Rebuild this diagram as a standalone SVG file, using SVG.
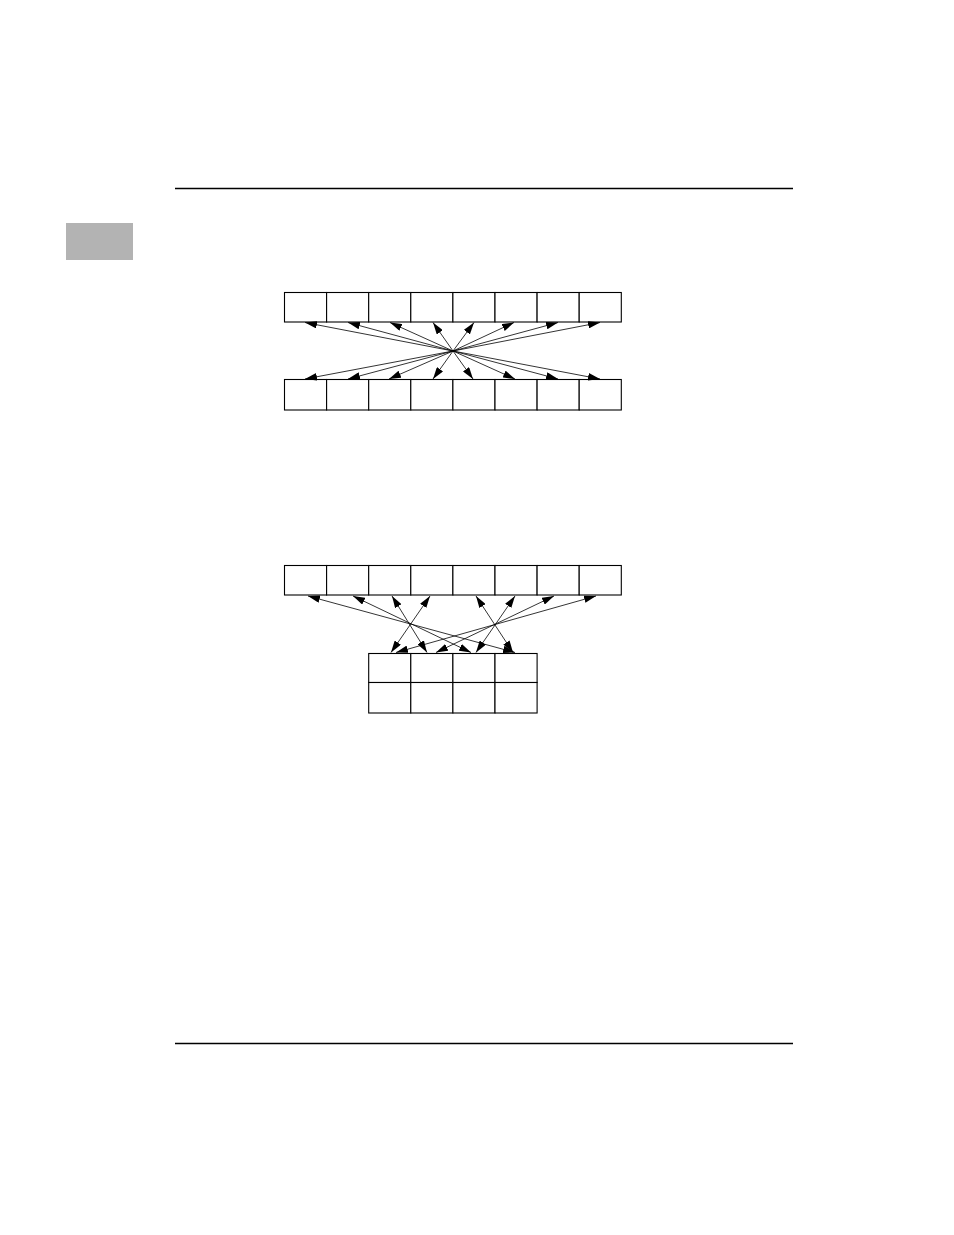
<svg xmlns="http://www.w3.org/2000/svg" width="954" height="1235" viewBox="0 0 954 1235">
<style>
.rule{stroke:#000;stroke-width:1.3;fill:none}
.box{fill:#fff;stroke:#000;stroke-width:1.1}
.conn line{stroke:#000;stroke-width:0.8;fill:none}
.one line{marker-end:url(#ah)}
.two line{marker-start:url(#ah);marker-end:url(#ah)}
</style>
<defs>
<marker id="ah" viewBox="0 0 12 7.5" refX="12" refY="3.75" markerWidth="12" markerHeight="7.5" markerUnits="userSpaceOnUse" orient="auto-start-reverse">
<path d="M0,0 L12,3.75 L0,7.5 z" fill="#000"/>
</marker>
</defs>
<rect width="954" height="1235" fill="#fff"/>
<line class="rule" x1="175" y1="188.5" x2="793" y2="188.5"/>
<line class="rule" x1="175" y1="1043.5" x2="793" y2="1043.5"/>
<rect id="tab" x="66" y="223" width="67" height="37" fill="#b3b3b3"/>

<g id="d1-top">
<rect class="box" x="284.5" y="292.5" width="42.1" height="29.5"/>
<rect class="box" x="326.6" y="292.5" width="42.1" height="29.5"/>
<rect class="box" x="368.7" y="292.5" width="42.1" height="29.5"/>
<rect class="box" x="410.8" y="292.5" width="42.1" height="29.5"/>
<rect class="box" x="452.9" y="292.5" width="42.1" height="29.5"/>
<rect class="box" x="495.0" y="292.5" width="42.1" height="29.5"/>
<rect class="box" x="537.1" y="292.5" width="42.1" height="29.5"/>
<rect class="box" x="579.2" y="292.5" width="42.1" height="29.5"/>
</g>
<g id="d1-bottom">
<rect class="box" x="284.5" y="379.5" width="42.1" height="30.5"/>
<rect class="box" x="326.6" y="379.5" width="42.1" height="30.5"/>
<rect class="box" x="368.7" y="379.5" width="42.1" height="30.5"/>
<rect class="box" x="410.8" y="379.5" width="42.1" height="30.5"/>
<rect class="box" x="452.9" y="379.5" width="42.1" height="30.5"/>
<rect class="box" x="495.0" y="379.5" width="42.1" height="30.5"/>
<rect class="box" x="537.1" y="379.5" width="42.1" height="30.5"/>
<rect class="box" x="579.2" y="379.5" width="42.1" height="30.5"/>
</g>
<g id="d1-connectors" class="conn one">
<line x1="453" y1="351" x2="305" y2="322.5"/>
<line x1="453" y1="351" x2="348" y2="322.5"/>
<line x1="453" y1="351" x2="390" y2="322.5"/>
<line x1="453" y1="351" x2="433" y2="322.5"/>
<line x1="453" y1="351" x2="474" y2="322.5"/>
<line x1="453" y1="351" x2="514" y2="322.5"/>
<line x1="453" y1="351" x2="558" y2="322.5"/>
<line x1="453" y1="351" x2="600" y2="322.5"/>
<line x1="453" y1="351" x2="305" y2="379"/>
<line x1="453" y1="351" x2="348" y2="379"/>
<line x1="453" y1="351" x2="389" y2="379"/>
<line x1="453" y1="351" x2="433" y2="379"/>
<line x1="453" y1="351" x2="473" y2="379"/>
<line x1="453" y1="351" x2="515" y2="379"/>
<line x1="453" y1="351" x2="558" y2="379"/>
<line x1="453" y1="351" x2="600" y2="379"/>
</g>

<g id="d2-top">
<rect class="box" x="284.5" y="565.5" width="42.1" height="29.5"/>
<rect class="box" x="326.6" y="565.5" width="42.1" height="29.5"/>
<rect class="box" x="368.7" y="565.5" width="42.1" height="29.5"/>
<rect class="box" x="410.8" y="565.5" width="42.1" height="29.5"/>
<rect class="box" x="452.9" y="565.5" width="42.1" height="29.5"/>
<rect class="box" x="495.0" y="565.5" width="42.1" height="29.5"/>
<rect class="box" x="537.1" y="565.5" width="42.1" height="29.5"/>
<rect class="box" x="579.2" y="565.5" width="42.1" height="29.5"/>
</g>
<g id="d2-grid">
<rect class="box" x="368.7" y="653.5" width="42.1" height="29"/>
<rect class="box" x="410.8" y="653.5" width="42.1" height="29"/>
<rect class="box" x="452.9" y="653.5" width="42.1" height="29"/>
<rect class="box" x="495.0" y="653.5" width="42.1" height="29"/>
<rect class="box" x="368.7" y="682.5" width="42.1" height="30.5"/>
<rect class="box" x="410.8" y="682.5" width="42.1" height="30.5"/>
<rect class="box" x="452.9" y="682.5" width="42.1" height="30.5"/>
<rect class="box" x="495.0" y="682.5" width="42.1" height="30.5"/>
</g>
<g id="d2-connectors" class="conn two">
<line x1="308" y1="596" x2="515" y2="652.5"/>
<line x1="353" y1="596" x2="471" y2="652.5"/>
<line x1="392" y1="596" x2="427" y2="652.5"/>
<line x1="430" y1="596" x2="391" y2="652.5"/>
<line x1="476" y1="596" x2="513" y2="652.5"/>
<line x1="515" y1="596" x2="476" y2="652.5"/>
<line x1="554" y1="596" x2="436" y2="652.5"/>
<line x1="596" y1="596" x2="396" y2="652.5"/>
</g>
</svg>
